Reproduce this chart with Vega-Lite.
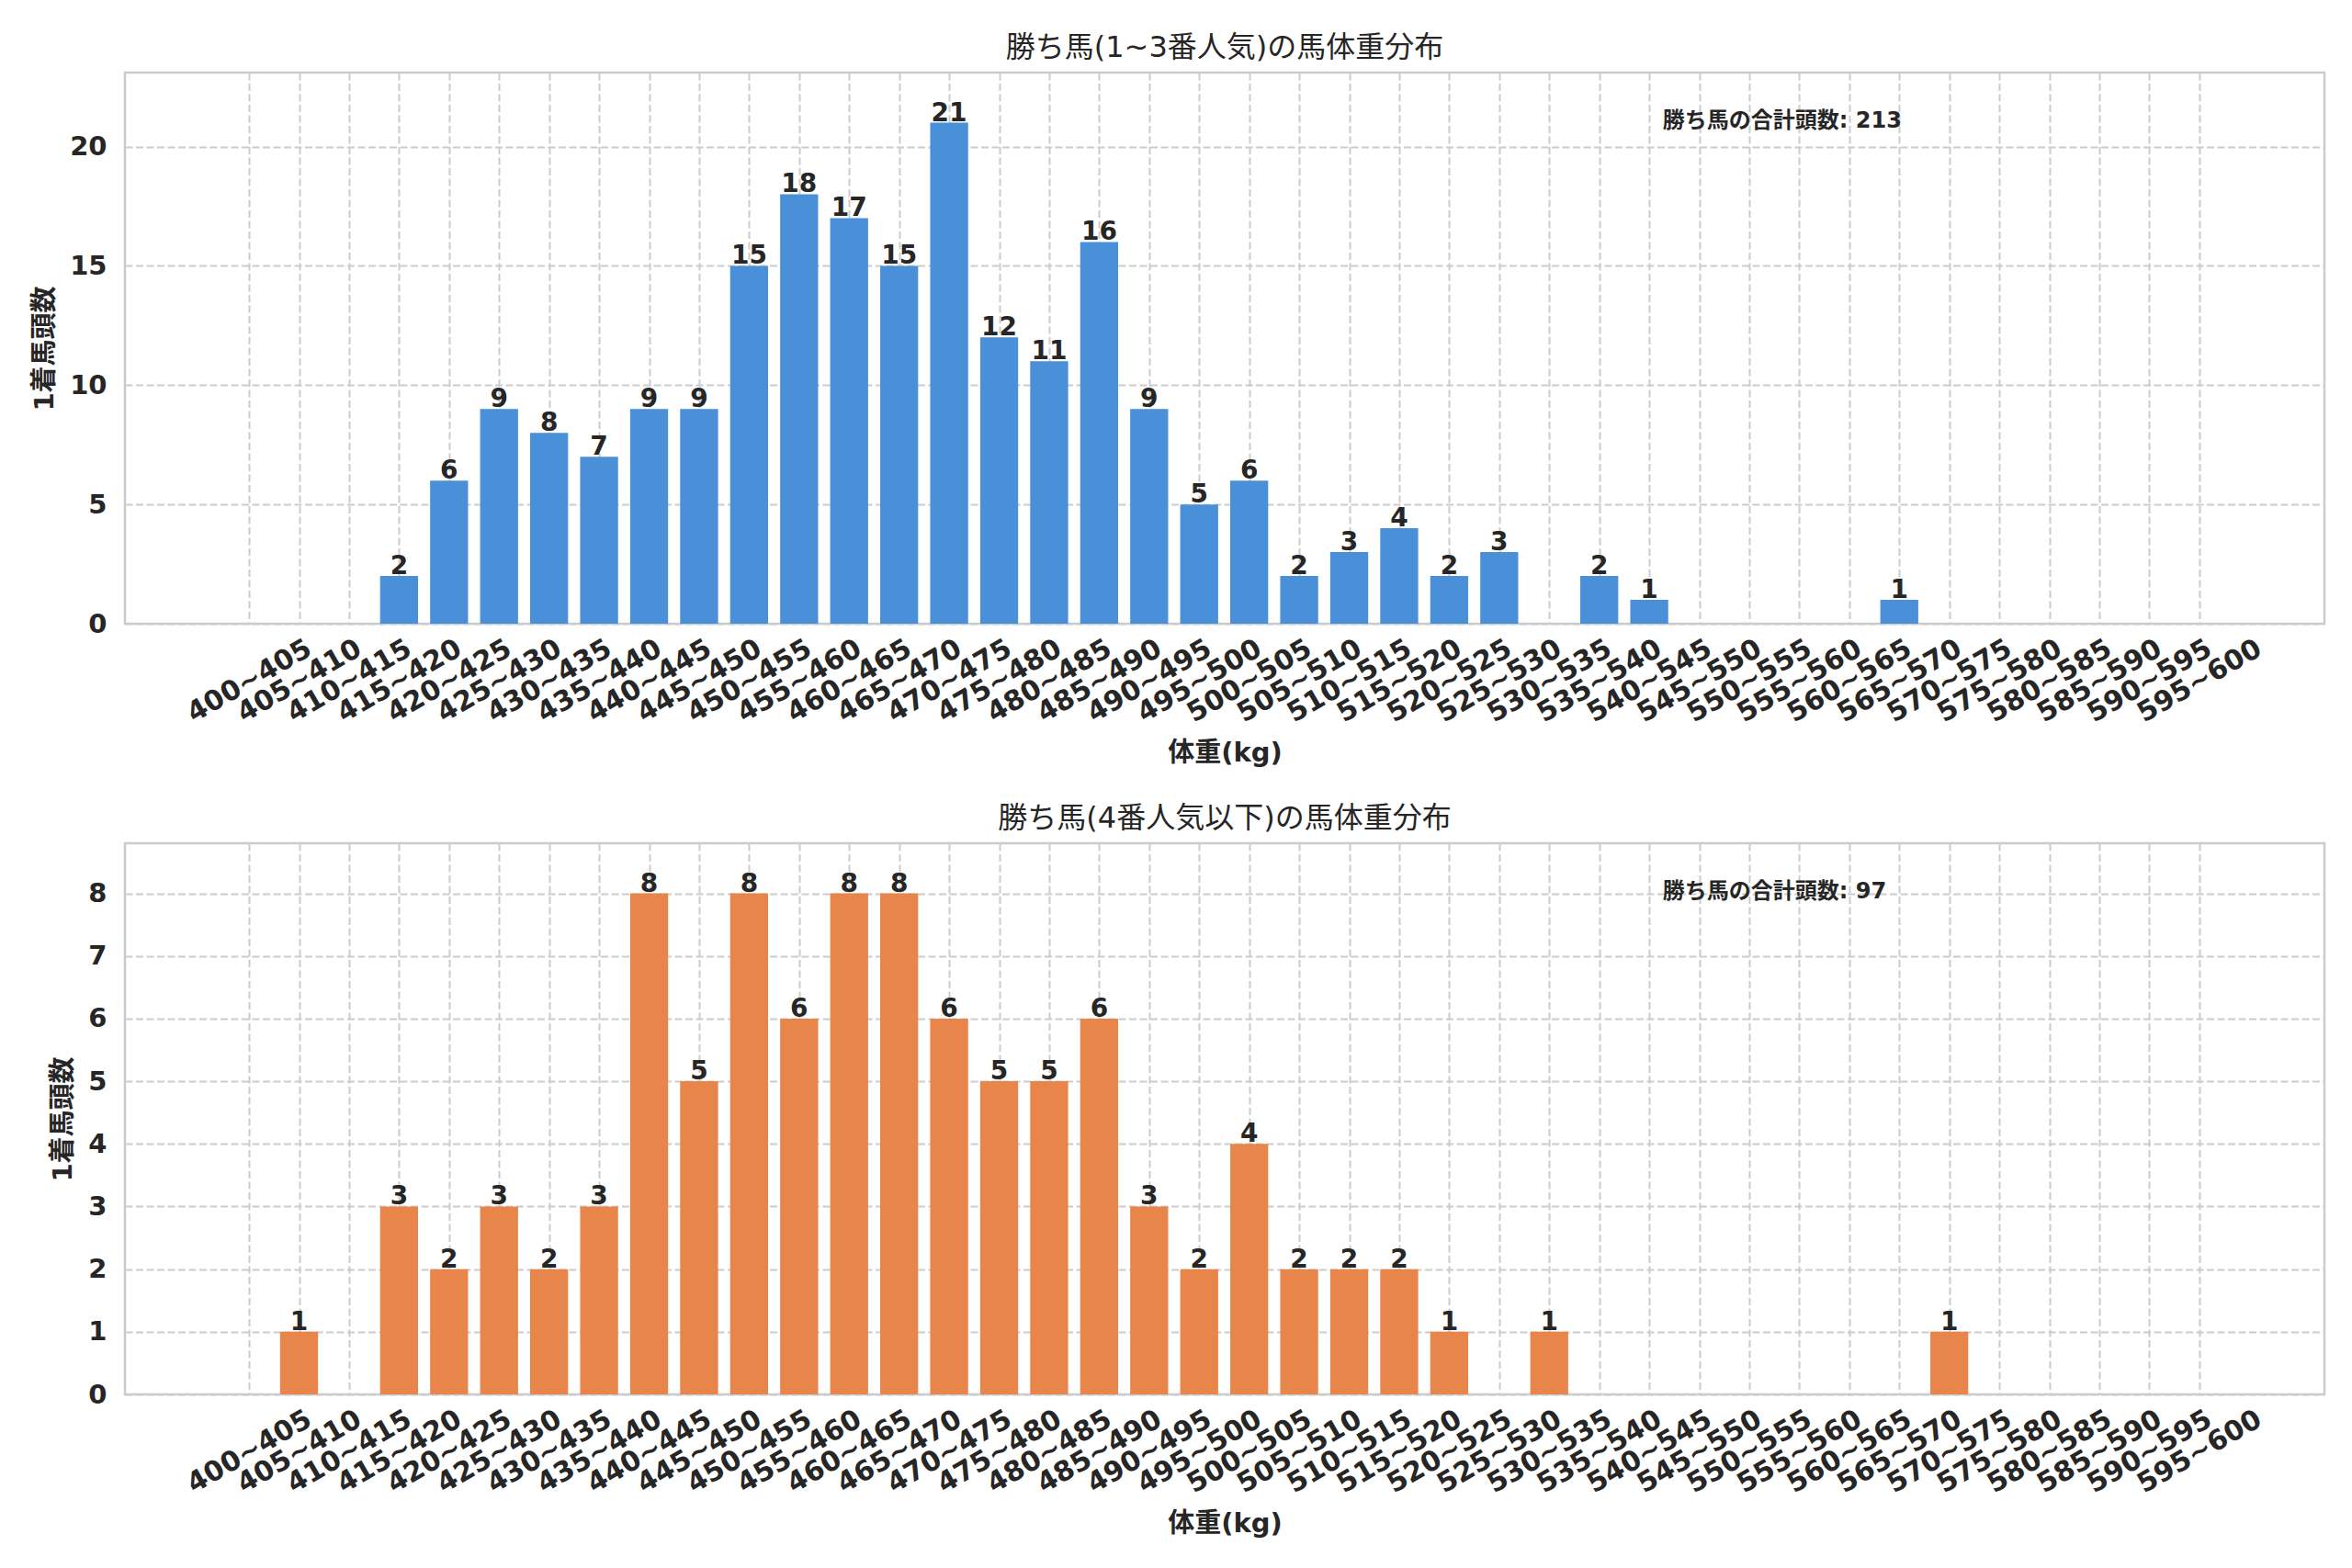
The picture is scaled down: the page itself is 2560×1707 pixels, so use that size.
{
  "$schema": "https://vega.github.io/schema/vega-lite/v6.json",
  "background": "white",
  "padding": {"left": 33, "top": 34, "right": 31, "bottom": 31},
  "bounds": "flush",
  "spacing": 239,
  "config": {
    "font": "DejaVu Sans, Noto Sans CJK JP",
    "view": {"stroke": "#cccccc", "strokeWidth": 2.5},
    "axis": {
      "labelFont": "DejaVu Sans",
      "labelFontSize": 29,
      "labelFontWeight": "bold",
      "labelColor": "#262626",
      "titleFont": "DejaVu Sans, Noto Sans CJK JP",
      "titleFontSize": 29,
      "titleFontWeight": "bold",
      "titleColor": "#262626",
      "domain": false,
      "ticks": false,
      "tickSize": 0,
      "grid": true,
      "gridColor": "#cccccc",
      "gridWidth": 2,
      "gridDash": [8, 3.5]
    },
    "axisX": {"labelFontSize": 30},
    "axisY": {"labelPadding": 20, "titlePadding": 12},
    "title": {
      "font": "DejaVu Sans, Noto Sans CJK JP",
      "fontSize": 32,
      "fontWeight": "normal",
      "color": "#262626",
      "anchor": "middle",
      "offset": 10
    }
  },
  "datasets": {
    "top": [
      {"i": 0, "bin": "400~405", "count": 0}, {"i": 1, "bin": "405~410", "count": 0}, {"i": 2, "bin": "410~415", "count": 0},
      {"i": 3, "bin": "415~420", "count": 2}, {"i": 4, "bin": "420~425", "count": 6}, {"i": 5, "bin": "425~430", "count": 9},
      {"i": 6, "bin": "430~435", "count": 8}, {"i": 7, "bin": "435~440", "count": 7}, {"i": 8, "bin": "440~445", "count": 9},
      {"i": 9, "bin": "445~450", "count": 9}, {"i": 10, "bin": "450~455", "count": 15}, {"i": 11, "bin": "455~460", "count": 18},
      {"i": 12, "bin": "460~465", "count": 17}, {"i": 13, "bin": "465~470", "count": 15}, {"i": 14, "bin": "470~475", "count": 21},
      {"i": 15, "bin": "475~480", "count": 12}, {"i": 16, "bin": "480~485", "count": 11}, {"i": 17, "bin": "485~490", "count": 16},
      {"i": 18, "bin": "490~495", "count": 9}, {"i": 19, "bin": "495~500", "count": 5}, {"i": 20, "bin": "500~505", "count": 6},
      {"i": 21, "bin": "505~510", "count": 2}, {"i": 22, "bin": "510~515", "count": 3}, {"i": 23, "bin": "515~520", "count": 4},
      {"i": 24, "bin": "520~525", "count": 2}, {"i": 25, "bin": "525~530", "count": 3}, {"i": 26, "bin": "530~535", "count": 0},
      {"i": 27, "bin": "535~540", "count": 2}, {"i": 28, "bin": "540~545", "count": 1}, {"i": 29, "bin": "545~550", "count": 0},
      {"i": 30, "bin": "550~555", "count": 0}, {"i": 31, "bin": "555~560", "count": 0}, {"i": 32, "bin": "560~565", "count": 0},
      {"i": 33, "bin": "565~570", "count": 1}, {"i": 34, "bin": "570~575", "count": 0}, {"i": 35, "bin": "575~580", "count": 0},
      {"i": 36, "bin": "580~585", "count": 0}, {"i": 37, "bin": "585~590", "count": 0}, {"i": 38, "bin": "590~595", "count": 0},
      {"i": 39, "bin": "595~600", "count": 0}
    ],
    "bottom": [
      {"i": 0, "bin": "400~405", "count": 0}, {"i": 1, "bin": "405~410", "count": 1}, {"i": 2, "bin": "410~415", "count": 0},
      {"i": 3, "bin": "415~420", "count": 3}, {"i": 4, "bin": "420~425", "count": 2}, {"i": 5, "bin": "425~430", "count": 3},
      {"i": 6, "bin": "430~435", "count": 2}, {"i": 7, "bin": "435~440", "count": 3}, {"i": 8, "bin": "440~445", "count": 8},
      {"i": 9, "bin": "445~450", "count": 5}, {"i": 10, "bin": "450~455", "count": 8}, {"i": 11, "bin": "455~460", "count": 6},
      {"i": 12, "bin": "460~465", "count": 8}, {"i": 13, "bin": "465~470", "count": 8}, {"i": 14, "bin": "470~475", "count": 6},
      {"i": 15, "bin": "475~480", "count": 5}, {"i": 16, "bin": "480~485", "count": 5}, {"i": 17, "bin": "485~490", "count": 6},
      {"i": 18, "bin": "490~495", "count": 3}, {"i": 19, "bin": "495~500", "count": 2}, {"i": 20, "bin": "500~505", "count": 4},
      {"i": 21, "bin": "505~510", "count": 2}, {"i": 22, "bin": "510~515", "count": 2}, {"i": 23, "bin": "515~520", "count": 2},
      {"i": 24, "bin": "520~525", "count": 1}, {"i": 25, "bin": "525~530", "count": 0}, {"i": 26, "bin": "530~535", "count": 1},
      {"i": 27, "bin": "535~540", "count": 0}, {"i": 28, "bin": "540~545", "count": 0}, {"i": 29, "bin": "545~550", "count": 0},
      {"i": 30, "bin": "550~555", "count": 0}, {"i": 31, "bin": "555~560", "count": 0}, {"i": 32, "bin": "560~565", "count": 0},
      {"i": 33, "bin": "565~570", "count": 0}, {"i": 34, "bin": "570~575", "count": 1}, {"i": 35, "bin": "575~580", "count": 0},
      {"i": 36, "bin": "580~585", "count": 0}, {"i": 37, "bin": "585~590", "count": 0}, {"i": 38, "bin": "590~595", "count": 0},
      {"i": 39, "bin": "595~600", "count": 0}
    ]
  },
  "vconcat": [
    {
      "title": "勝ち馬(1~3番人気)の馬体重分布",
      "width": 2394,
      "height": 600,
      "encoding": {
        "x": {
          "field": "i",
          "type": "quantitative",
          "title": "体重(kg)",
          "scale": {"domain": [-2.39, 41.41], "nice": false, "zero": false},
          "axis": {
            "values": [0, 1, 2, 3, 4, 5, 6, 7, 8, 9, 10, 11, 12, 13, 14, 15, 16, 17, 18, 19, 20, 21, 22, 23, 24, 25, 26, 27, 28, 29, 30, 31, 32, 33, 34, 35, 36, 37, 38, 39],
            "labelExpr": "(400 + 5 * datum.value) + '~' + (405 + 5 * datum.value)",
            "labelAngle": -30, "labelAlign": "center", "labelBaseline": "middle", "labelPadding": 62,
            "labelOverlap": false, "labelFlush": false, "labelBound": false, "titlePadding": 14
          }
        },
        "y": {
          "field": "count",
          "type": "quantitative",
          "title": "1着馬頭数",
          "scale": {"domain": [0, 23.1], "nice": false},
          "axis": {"values": [0, 5, 10, 15, 20]}
        }
      },
      "layer": [
        {"data": {"name": "top"}, "mark": {"type": "bar", "color": "#4a90d9", "width": 41.3}},
        {
          "data": {"name": "top"},
          "transform": [{"filter": "datum.count > 0"}],
          "mark": {"type": "text", "baseline": "alphabetic", "dy": -2, "fontSize": 28, "fontWeight": "bold", "color": "#262626"},
          "encoding": {"text": {"field": "count", "type": "quantitative"}}
        },
        {
          "data": {"values": [{"i": 28.27, "count": 20.79, "label": "勝ち馬の合計頭数: 213"}]},
          "mark": {"type": "text", "align": "left", "baseline": "alphabetic", "fontSize": 24, "fontWeight": "bold", "color": "#262626"},
          "encoding": {"text": {"field": "label"}}
        }
      ]
    },
    {
      "title": "勝ち馬(4番人気以下)の馬体重分布",
      "width": 2394,
      "height": 600,
      "encoding": {
        "x": {
          "field": "i",
          "type": "quantitative",
          "title": "体重(kg)",
          "scale": {"domain": [-2.39, 41.41], "nice": false, "zero": false},
          "axis": {
            "values": [0, 1, 2, 3, 4, 5, 6, 7, 8, 9, 10, 11, 12, 13, 14, 15, 16, 17, 18, 19, 20, 21, 22, 23, 24, 25, 26, 27, 28, 29, 30, 31, 32, 33, 34, 35, 36, 37, 38, 39],
            "labelExpr": "(400 + 5 * datum.value) + '~' + (405 + 5 * datum.value)",
            "labelAngle": -30, "labelAlign": "center", "labelBaseline": "middle", "labelPadding": 62,
            "labelOverlap": false, "labelFlush": false, "labelBound": false, "titlePadding": 14
          }
        },
        "y": {
          "field": "count",
          "type": "quantitative",
          "title": "1着馬頭数",
          "scale": {"domain": [0, 8.8], "nice": false},
          "axis": {"values": [0, 1, 2, 3, 4, 5, 6, 7, 8]}
        }
      },
      "layer": [
        {"data": {"name": "bottom"}, "mark": {"type": "bar", "color": "#e8854b", "width": 41.3}},
        {
          "data": {"name": "bottom"},
          "transform": [{"filter": "datum.count > 0"}],
          "mark": {"type": "text", "baseline": "alphabetic", "dy": -2, "fontSize": 28, "fontWeight": "bold", "color": "#262626"},
          "encoding": {"text": {"field": "count", "type": "quantitative"}}
        },
        {
          "data": {"values": [{"i": 28.27, "count": 7.92, "label": "勝ち馬の合計頭数: 97"}]},
          "mark": {"type": "text", "align": "left", "baseline": "alphabetic", "fontSize": 24, "fontWeight": "bold", "color": "#262626"},
          "encoding": {"text": {"field": "label"}}
        }
      ]
    }
  ]
}
